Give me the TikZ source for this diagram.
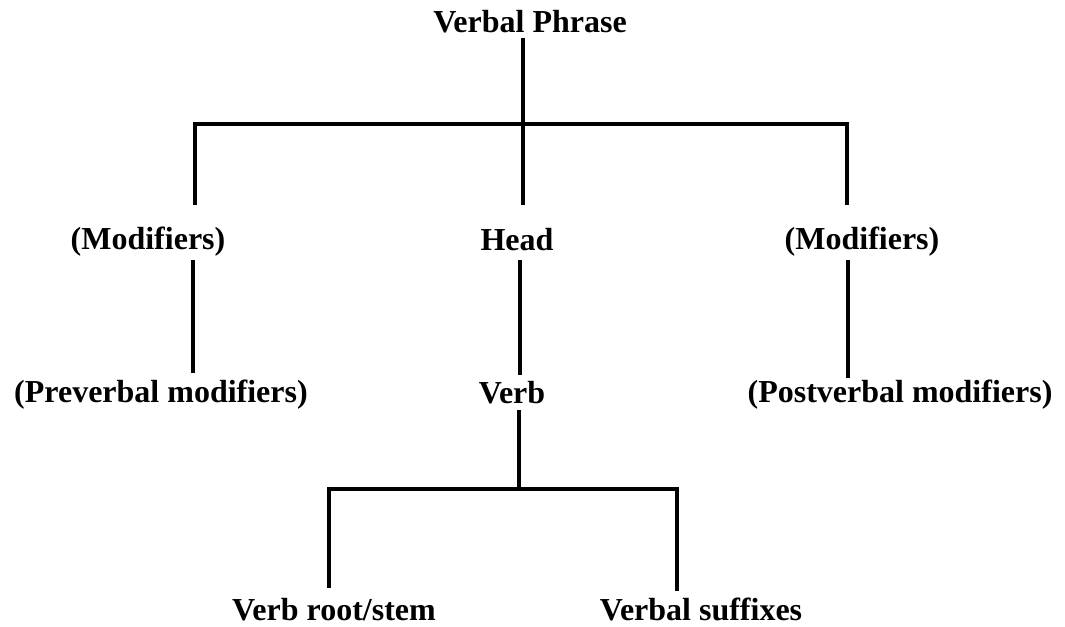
\documentclass[tikz,border=0pt]{standalone}
\usepackage{fontspec}
\setmainfont{Liberation Serif}
\begin{document}
\begin{tikzpicture}[x=0.75pt,y=-0.75pt,
  lbl/.style={anchor=base,inner sep=0pt,font=\bfseries\fontsize{24}{28}\selectfont},
  branch/.style={line width=2.4pt,line cap=butt,line join=miter}]
\useasboundingbox (0,0) rectangle (1065,627);

% labels
\node[lbl] (vp)   at (530,33)  {Verbal Phrase};
\node[lbl] (modl) at (148,250) {(Modifiers)};
\node[lbl] (head) at (517,251) {Head};
\node[lbl] (modr) at (862,250) {(Modifiers)};
\node[lbl] (prev) at (161,403) {(Preverbal modifiers)};
\node[lbl] (verb) at (512,404) {Verb};
\node[lbl] (post) at (900,403) {(Postverbal modifiers)};
\node[lbl] (root) at (334,620) {Verb root/stem};
\node[lbl] (suff) at (701,620) {Verbal suffixes};

% branching points and line ends
\coordinate (vpS)   at (523,38);
\coordinate (j1)    at (523,124);
\coordinate (j1l)   at (195,124);
\coordinate (j1r)   at (847,124);
\coordinate (modlN) at (195,205);
\coordinate (headN) at (523,205);
\coordinate (modrN) at (847,205);
\coordinate (modlS) at (193,260);
\coordinate (prevN) at (193,373);
\coordinate (headS) at (520,260);
\coordinate (verbN) at (520,375);
\coordinate (modrS) at (848,260);
\coordinate (postN) at (848,378);
\coordinate (verbS) at (519,410);
\coordinate (j2)    at (519,489);
\coordinate (j2l)   at (329,489);
\coordinate (j2r)   at (677,489);
\coordinate (rootN) at (329,588);
\coordinate (suffN) at (677,591);

% upper tree
\draw[branch] (vpS) -- (j1);
\draw[branch] (modlN) -- (j1l) -- (j1r) -- (modrN);
\draw[branch] (j1) -- (headN);
\draw[branch] (modlS) -- (prevN);
\draw[branch] (headS) -- (verbN);
\draw[branch] (modrS) -- (postN);

% verb structure
\draw[branch] (verbS) -- (j2);
\draw[branch] (rootN) -- (j2l) -- (j2r) -- (suffN);
\end{tikzpicture}
\end{document}
